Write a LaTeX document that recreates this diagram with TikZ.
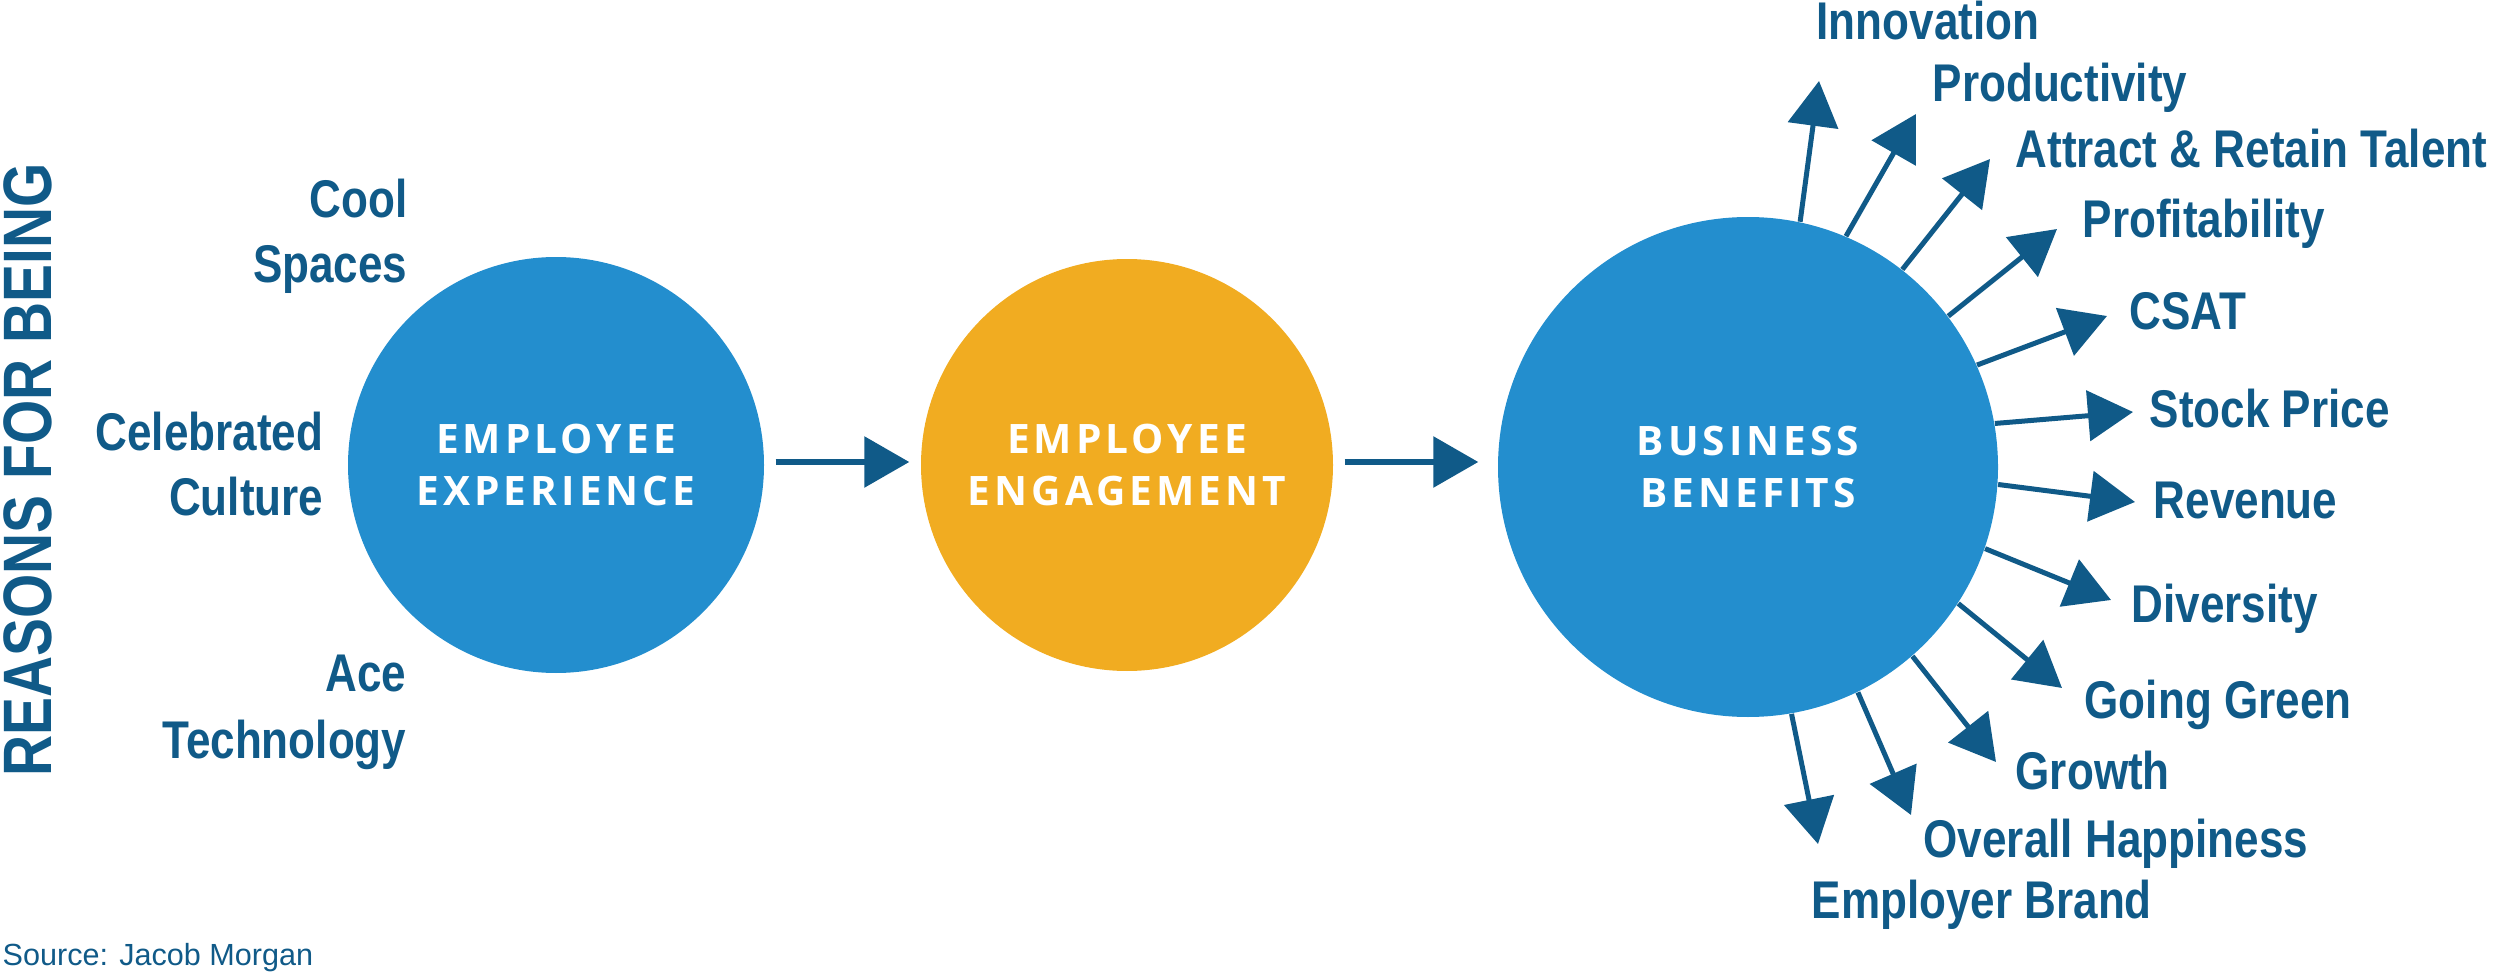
\documentclass[tikz,border=0pt]{standalone}
\usepackage{fontspec}
\setmainfont{Liberation Sans}
\newfontfamily\lblfont{Liberation Sans}[FakeStretch=0.83]
\newfontfamily\circfont{Open Sans}[LetterSpace=10]
\usetikzlibrary{arrows.meta}
\definecolor{dblue}{HTML}{105A88}
\definecolor{cblue}{HTML}{238ECE}
\definecolor{corange}{HTML}{F1AC21}
\tikzset{
  lbl/.style={text=dblue, font=\lblfont\bfseries\fontsize{15.1}{18}\selectfont, inner sep=0, anchor=base west},
  lbll/.style={lbl, anchor=base east},
  bubble/.style={circle, inner sep=0, text=white, font=\circfont\bfseries\fontsize{11.55}{14.8}\selectfont, align=center},
  flow/.style={draw=dblue, line width=0.6mm, -{Triangle[length=4.5mm,width=5mm]}},
  ray/.style={draw=dblue, line width=0.5mm, -{Triangle[length=4.5mm,width=5mm]}},
}
\begin{document}
\begin{tikzpicture}[x=0.1mm,y=-0.1mm]
\useasboundingbox (0,0) rectangle (2500,972);
% circles
\node[bubble, fill=cblue, minimum size=41.6mm] (ee) at (556,465) {EMPLOYEE\\EXPERIENCE};
\node[bubble, fill=corange, minimum size=41.2mm] (eg) at (1127,465) {EMPLOYEE\\ENGAGEMENT};
\node[bubble, fill=cblue, minimum size=50mm] (bb) at (1748,467) {BUSINESS\\BENEFITS};
% flow arrows
\draw[flow, shorten <=1.1mm, shorten >=1.1mm] ([yshift=0.3mm]ee.east) -- ([yshift=0.3mm]eg.west);
\draw[flow, shorten <=1.1mm, shorten >=1.9mm] ([yshift=0.3mm]eg.east) -- ([yshift=0.3mm]eg.east -| bb.west);
% side title
\node[text=dblue, font=\lblfont\bfseries\fontsize{19.5}{22}\selectfont, inner sep=0, rotate=90, anchor=base] (rfb) at (51,470) {REASONS FOR BEING};
% left labels
\node[lbll] (cool) at (408,218) {Cool};
\node[lbll] (spaces) at (408,283) {Spaces};
\node[lbll] (celeb) at (324,450) {Celebrated};
\node[lbll] (cult) at (324,515) {Culture};
\node[lbll] (ace) at (407,691) {Ace};
\node[lbll] (tech) at (407,758) {Technology};
% ray tips
\coordinate (t1) at (1819,81);
\coordinate (t2) at (1916,114);
\coordinate (t3) at (1990,159);
\coordinate (t4) at (2057,229);
\coordinate (t5) at (2107,316);
\coordinate (t6) at (2133,412);
\coordinate (t7) at (2135,502);
\coordinate (t8) at (2111,600);
\coordinate (t9) at (2062,688);
\coordinate (t10) at (1996,762);
\coordinate (t11) at (1911,815);
\coordinate (t12) at (1818,844);
\draw[ray] (bb.78.9) -- (t1);
\draw[ray] (bb.67.1) -- (t2);
\draw[ray] (bb.52.4) -- (t3);
\draw[ray] (bb.37.9) -- (t4);
\draw[ray] (bb.24.1) -- (t5);
\draw[ray] (bb.10.3) -- (t6);
\draw[ray] (bb.-4.6) -- (t7);
\draw[ray] (bb.-19.2) -- (t8);
\draw[ray] (bb.-33.6) -- (t9);
\draw[ray] (bb.-49.1) -- (t10);
\draw[ray] (bb.-64.5) -- (t11);
\draw[ray] (bb.-80.3) -- (t12);
% right labels
\node[lbl] (l1) at (1816,40) {Innovation};
\node[lbl] (l2) at (1932,102) {Productivity};
\node[lbl] (l3) at (2015,168) {Attract \& Retain Talent};
\node[lbl] (l4) at (2082,238) {Profitability};
\node[lbl] (l5) at (2129,329) {CSAT};
\node[lbl] (l6) at (2149,427) {Stock Price};
\node[lbl] (l7) at (2153,518) {Revenue};
\node[lbl] (l8) at (2131,622) {Diversity};
\node[lbl] (l9) at (2084,718) {Going Green};
\node[lbl] (l10) at (2015,789) {Growth};
\node[lbl] (l11) at (1923,857) {Overall Happiness};
\node[lbl] (l12) at (1811,918) {Employer Brand};
% source
\node[text=dblue, font=\fontsize{8.7}{10}\selectfont, inner sep=0, anchor=base west] (src) at (2,965) {Source: Jacob Morgan};
\end{tikzpicture}
\end{document}
